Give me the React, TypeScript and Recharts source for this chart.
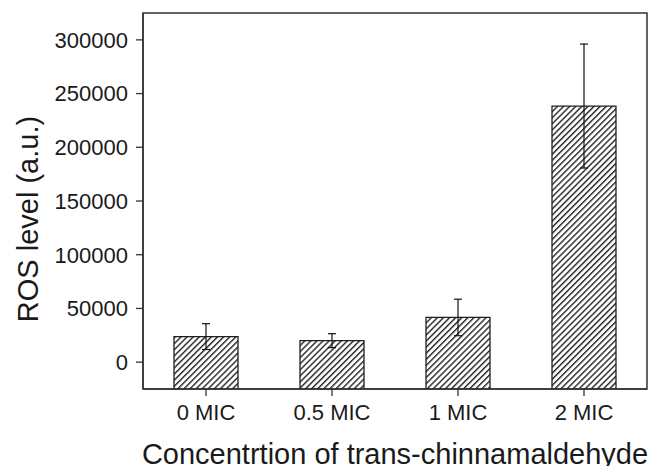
import React from "react";
import { BarChart, Bar, XAxis, YAxis, ErrorBar, ReferenceArea } from "recharts";

const categories = ["0 MIC", "0.5 MIC", "1 MIC", "2 MIC"];
const rosValues = [23800, 20000, 41600, 238400];
const rosErrors = [12000, 6500, 17000, 57700];
const yTicks = [0, 50000, 100000, 150000, 200000, 250000, 300000];
const yDomain = [-25000, 325000];

// bars in the reference are drawn from the bottom of the axis up to the value
const data = categories.map((c, i) => ({
  name: c,
  range: [yDomain[0], rosValues[i]],
  err: rosErrors[i],
}));

const FONT = "'Liberation Sans', Arial, Helvetica, sans-serif";
const AXIS = "#333333";

export default function App() {
  return (
    <div style={{ position: "absolute", left: 0, top: 0, background: "#fff" }}>
      <BarChart
        width={651}
        height={466}
        data={data}
        margin={{ top: 13, right: 4, bottom: 0, left: 0 }}
        barSize={64}
      >
        <defs>
          <pattern
            id="hatch"
            patternUnits="userSpaceOnUse"
            width={4.3}
            height={10}
            patternTransform="rotate(45)"
          >
            <rect x={0} y={0} width={4.3} height={10} fill="#ffffff" />
            <line x1={0.7} y1={0} x2={0.7} y2={10} stroke="#222222" strokeWidth={1.4} />
          </pattern>
        </defs>
        <XAxis
          dataKey="name"
          xAxisId="bottom"
          height={77}
          tickSize={7}
          tickMargin={8}
          axisLine={{ stroke: AXIS, strokeWidth: 1.5 }}
          tickLine={{ stroke: AXIS, strokeWidth: 1.3 }}
          tick={{ fill: "#1a1a1a", fontSize: 22, fontFamily: FONT }}
          label={(props: any) => {
            const vb = props.viewBox || {};
            const cx = (vb.x ?? 143) + (vb.width ?? 504) / 2;
            return (
              <text
                x={cx}
                y={464}
                textAnchor="middle"
                fill="#1a1a1a"
                fontSize={29}
                fontFamily={FONT}
              >
                Concentrtion of trans-chinnamaldehyde
              </text>
            );
          }}
        />
        <YAxis
          yAxisId="left"
          width={143}
          domain={yDomain}
          ticks={yTicks}
          allowDataOverflow
          tickSize={7}
          tickMargin={8}
          axisLine={{ stroke: AXIS, strokeWidth: 1.5 }}
          tickLine={{ stroke: AXIS, strokeWidth: 1.3 }}
          tick={{ fill: "#1a1a1a", fontSize: 22, fontFamily: FONT }}
          label={(props: any) => {
            const vb = props.viewBox || {};
            const cy = (vb.y ?? 13) + (vb.height ?? 376) / 2 + 18;
            return (
              <text
                x={38}
                y={cy}
                transform={`rotate(-90, 38, ${cy})`}
                textAnchor="middle"
                fill="#1a1a1a"
                fontSize={29}
                fontFamily={FONT}
              >
                ROS level (a.u.)
              </text>
            );
          }}
        />
        <Bar
          dataKey="range"
          xAxisId="bottom"
          yAxisId="left"
          fill="url(#hatch)"
          stroke="#1f1f1f"
          strokeWidth={1.3}
          isAnimationActive={false}
        >
          <ErrorBar dataKey="err" width={4} stroke="#111" strokeWidth={1.2} direction="y" />
        </Bar>
        <ReferenceArea
          xAxisId="bottom"
          yAxisId="left"
          y1={yDomain[0]}
          y2={yDomain[1]}
          fill="none"
          fillOpacity={0}
          stroke={AXIS}
          strokeWidth={1.5}
          ifOverflow="visible"
        />
      </BarChart>
    </div>
  );
}
